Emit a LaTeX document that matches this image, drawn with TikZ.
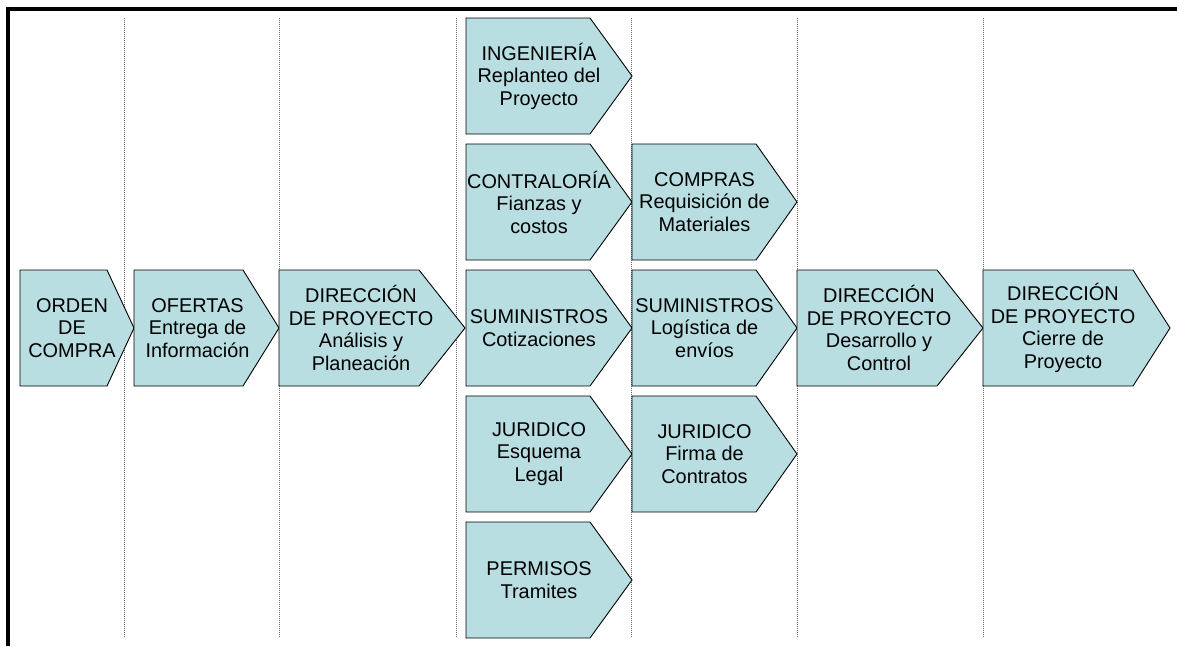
\documentclass[tikz,border=0pt]{standalone}
\usepackage{fontspec}
\setmainfont{Liberation Sans}
\usepackage{tikz}
\usetikzlibrary{calc}
\definecolor{chevfill}{RGB}{184,222,226}
\tikzset{
  chev/.style = {draw=black, line width=0.9pt, fill=chevfill, line join=miter},
  txt/.style = {align=center, inner sep=0pt, font=\fontsize{19.9}{22.5}\selectfont},
  sep/.style = {draw=gray!80!black, line width=0.8pt, dash pattern=on 1pt off 1pt},
  frame/.style = {draw=black, line width=4pt}
}

\begin{document}
\begin{tikzpicture}[x=1pt, y=-1pt]
  \useasboundingbox (0,0) rectangle (1177,646);

  % column separators
  \foreach \sx in {124, 279, 456, 631, 797, 983}
    \draw[sep] (\sx,18) -- (\sx,638);

  % main chain
  \draw[chev] (20,270) -- ++(87,0) -- ++(27,58) -- ++(-27,58) -- ++(-87,0) -- cycle;
  \node[txt] (orden) at (72,328) {ORDEN\\DE\\COMPRA};
  \draw[chev] (134,270) -- ++(109,0) -- ++(36,58) -- ++(-36,58) -- ++(-109,0) -- cycle;
  \node[txt] (ofertas) at (197.5,328) {OFERTAS\\Entrega de\\Información};
  \draw[chev] (279,270) -- ++(140,0) -- ++(46,58) -- ++(-46,58) -- ++(-140,0) -- cycle;
  \node[txt] (analisis) at (361,328) {DIRECCIÓN\\DE PROYECTO\\Análisis y\\Planeación};

  % parallel tasks, first column
  \draw[chev] (466,18) -- ++(124,0) -- ++(42,58) -- ++(-42,58) -- ++(-124,0) -- cycle;
  \node[txt] (ingenieria) at (539,76) {INGENIERÍA\\Replanteo del\\Proyecto};
  \draw[chev] (466,144) -- ++(124,0) -- ++(42,58) -- ++(-42,58) -- ++(-124,0) -- cycle;
  \node[txt] (contraloria) at (539,202) {CONTRALORÍA\\Fianzas y\\costos};
  \draw[chev] (466,270) -- ++(124,0) -- ++(42,58) -- ++(-42,58) -- ++(-124,0) -- cycle;
  \node[txt] (cotizaciones) at (539,328) {SUMINISTROS\\Cotizaciones};
  \draw[chev] (466,396) -- ++(124,0) -- ++(42,58) -- ++(-42,58) -- ++(-124,0) -- cycle;
  \node[txt] (esquema) at (539,454) {JURIDICO\\Esquema\\Legal};
  \draw[chev] (466,522) -- ++(124,0) -- ++(42,58) -- ++(-42,58) -- ++(-124,0) -- cycle;
  \node[txt] (permisos) at (539,580) {PERMISOS\\Tramites};

  % parallel tasks, second column
  \draw[chev] (632,144) -- ++(124,0) -- ++(41,58) -- ++(-41,58) -- ++(-124,0) -- cycle;
  \node[txt] (compras) at (704.5,202) {COMPRAS\\Requisición de\\Materiales};
  \draw[chev] (632,270) -- ++(124,0) -- ++(41,58) -- ++(-41,58) -- ++(-124,0) -- cycle;
  \node[txt] (logistica) at (704.5,328) {SUMINISTROS\\Logística de\\envíos};
  \draw[chev] (632,396) -- ++(124,0) -- ++(41,58) -- ++(-41,58) -- ++(-124,0) -- cycle;
  \node[txt] (contratos) at (704.5,454) {JURIDICO\\Firma de\\Contratos};

  % closing steps
  \draw[chev] (797,270) -- ++(140,0) -- ++(46,58) -- ++(-46,58) -- ++(-140,0) -- cycle;
  \node[txt] (desarrollo) at (879,328) {DIRECCIÓN\\DE PROYECTO\\Desarrollo y\\Control};
  \draw[chev] (983,270) -- ++(150,0) -- ++(37,58) -- ++(-37,58) -- ++(-150,0) -- cycle;
  \node[txt] (cierre) at (1063,328) {DIRECCIÓN\\DE PROYECTO\\Cierre de\\Proyecto};

  % outer frame (top and left only)
  \draw[frame] (8,646) -- (8,9) -- (1177,9);
\end{tikzpicture}
\end{document}
